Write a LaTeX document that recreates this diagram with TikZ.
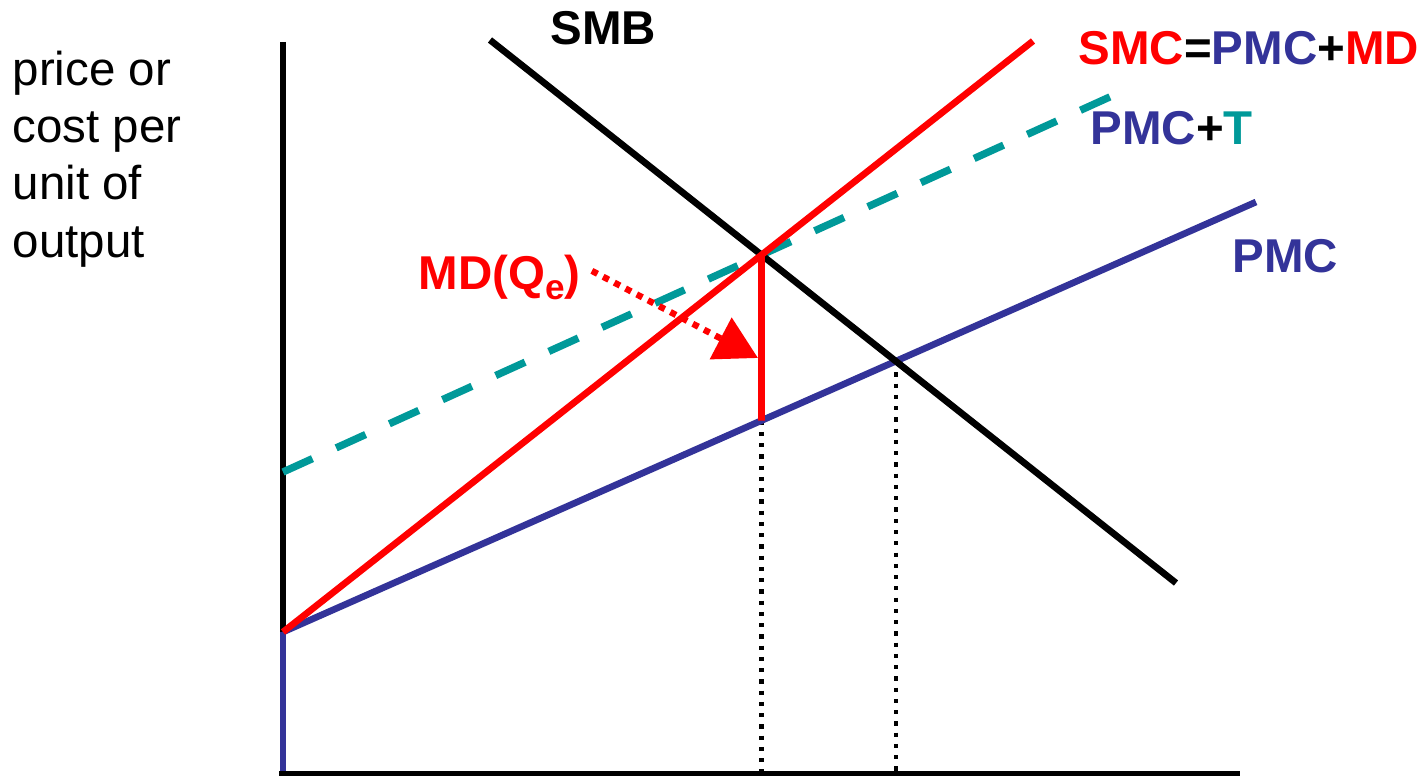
\documentclass[tikz,border=0pt]{standalone}
\usepackage{fontspec}
\setmainfont{Liberation Sans}
\usetikzlibrary{arrows.meta,calc}

\definecolor{smcred}{RGB}{255,0,0}
\definecolor{pmcblue}{RGB}{51,51,153}
\definecolor{taxteal}{RGB}{0,153,153}

\begin{document}
\begin{tikzpicture}[
  x=0.01cm,
  y=-0.01cm,
  curve/.style={line width=1.9pt},
  guide/.style={line width=1.2pt,dotted},
  tag/.style={
    font=\fontsize{13.5}{16}\selectfont\bfseries,
    inner sep=0pt,
    anchor=base west
  }
]
  \useasboundingbox (0,0) rectangle (1424,776);

  % Punkte der Kurven
  \coordinate (O) at (283,774);
  \coordinate (A) at (283,632);
  \coordinate (ytop) at (283,42);
  \coordinate (xend) at (1240,774);
  \coordinate (smbtop) at (490,40);
  \coordinate (smbend) at (1176,583);
  \coordinate (smcend) at (1033,41);
  \coordinate (pmcend) at (1256,202);
  \coordinate (taxstart) at (283,472);

  % Schnittpunkte
  \coordinate (E) at (intersection of A--smcend and smbtop--smbend);
  \coordinate (Q) at (intersection of A--pmcend and smbtop--smbend);
  \coordinate (Ep) at (intersection of A--pmcend and E--{E |- O});
  \coordinate (taxend) at ($(taxstart)!1.731!(E)$);
  \coordinate (mdtip) at (758,358);

  % Achsen
  \draw[line width=1.9pt] (ytop) -- (A);
  \draw[line width=1.9pt,pmcblue] (A) -- (283,776);
  \draw[line width=1.6pt] (279,774) -- (xend);

  % Hilfslinien
  \draw[guide] (Ep) -- (Ep |- 0,776);
  \draw[guide] (Q) -- (Q |- 0,776);

  % Kurven
  \draw[curve,pmcblue] (A) -- (pmcend);
  \draw[curve,taxteal,line width=2.1pt,dash pattern=on 9.2pt off 7.4pt]
    (taxstart) -- (taxend);
  \draw[curve] (smbtop) -- (smbend);
  \draw[curve,smcred] (A) -- (smcend);
  \draw[curve,smcred] (E) -- (Ep);

  % Beschriftungen
  \node[tag] (smb) at (550,45) {SMB};
  \node[tag] (smc) at (1078,65)
    {\textcolor{smcred}{SMC}=\textcolor{pmcblue}{PMC}+\textcolor{smcred}{MD}};
  \node[tag] (pmct) at (1090,145)
    {\textcolor{pmcblue}{PMC}+\textcolor{taxteal}{T}};
  \node[tag,pmcblue] (pmc) at (1232,272) {PMC};
  \node[tag,smcred] (mdq) at (418,290)
    {MD(Q\raisebox{-2.8pt}{\fontsize{10}{10}\selectfont e})};

  \node[
    anchor=north west,
    align=left,
    inner sep=0pt,
    font=\fontsize{13.5}{16.3}\selectfont
  ] (ylabel) at (12,50) {price or\\cost per\\unit of\\output};

  % Pfeil
  \draw[
    smcred,
    line width=1.8pt,
    dash pattern=on 1.8pt off 1.8pt,
    -{Triangle[length=12pt,width=13pt]}
  ] ([xshift=3pt,yshift=2pt]mdq.east) -- (mdtip);
\end{tikzpicture}
\end{document}
